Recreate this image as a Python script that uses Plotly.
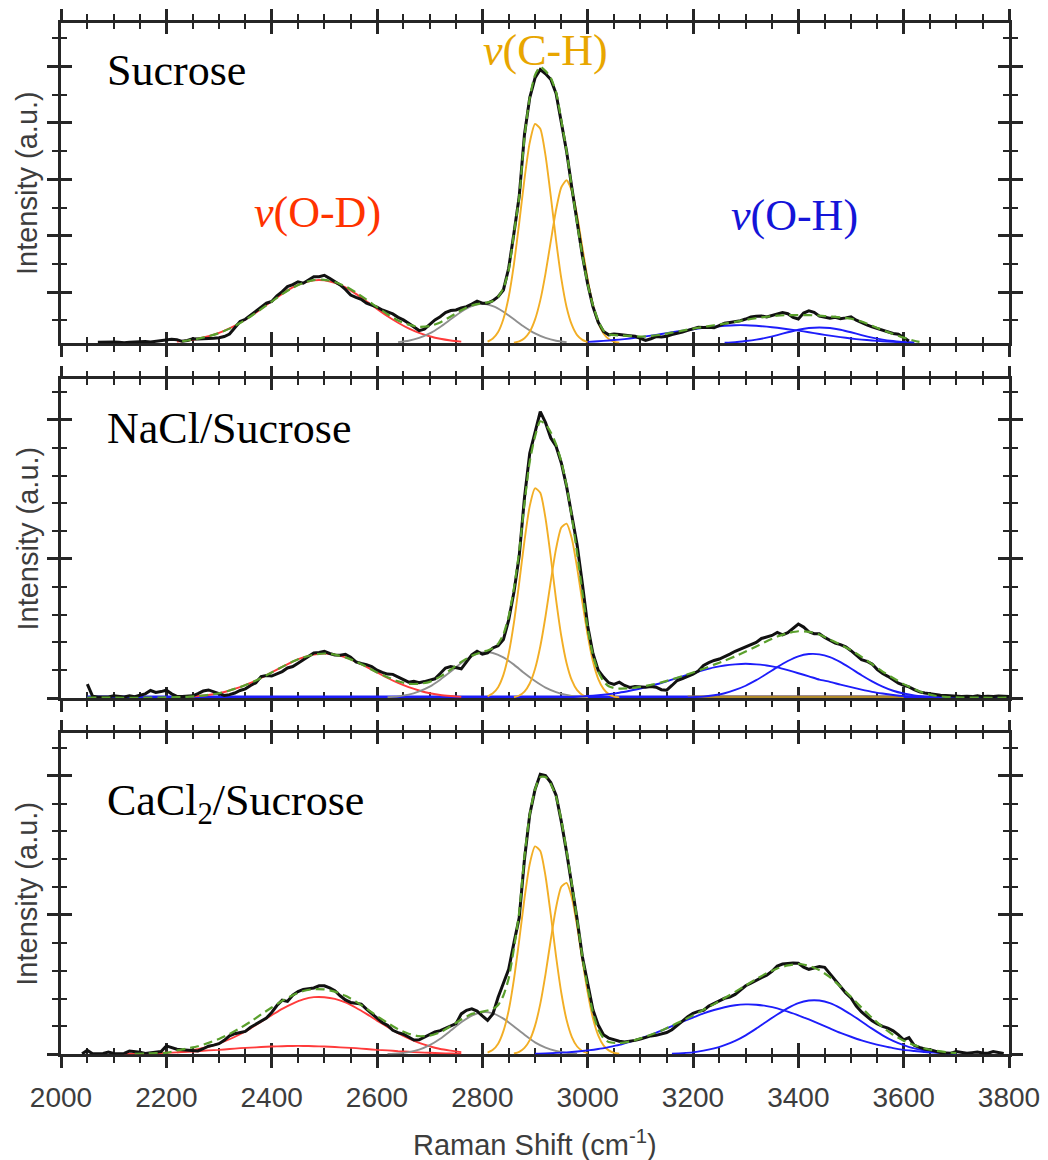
import plotly.graph_objects as go

# ---------------- data ----------------
# Panel 1 : Sucrose
P1_DATA_START, P1_DATA_STEP = 2070, 10
P1_DATA = [0.04, 0.05, 0.04, 0.05, 0.04, 0.02, 0.04, 0.05, 0.04, 0.06, 0.05, 0.07, 0.08, 0.12, 0.14, 0.13, 0.07, 0.10,
           0.16, 0.15, 0.16, 0.15, 0.18, 0.20, 0.24, 0.33, 0.57, 0.77, 0.85, 0.99, 1.12, 1.26, 1.42, 1.48, 1.68, 1.83,
           2.01, 2.08, 2.18, 2.13, 2.24, 2.36, 2.36, 2.41, 2.30, 2.18, 2.07, 1.91, 1.71, 1.63, 1.56, 1.42, 1.36, 1.28,
           1.18, 1.12, 1.04, 0.92, 0.83, 0.71, 0.59, 0.45, 0.50, 0.65, 0.83, 0.94, 1.09, 1.16, 1.18, 1.25, 1.30, 1.39,
           1.49, 1.42, 1.42, 1.51, 1.65, 1.89, 2.66, 3.9, 5.2, 7.4, 8.7, 9.4, 9.7, 9.55, 9.35, 8.85, 7.85, 6.8, 5.5,
           4.25, 3.1, 2.1, 1.3, 0.75, 0.42, 0.30, 0.33, 0.31, 0.30, 0.27, 0.25, 0.18, 0.10, 0.16, 0.24, 0.22, 0.25,
           0.31, 0.35, 0.40, 0.46, 0.52, 0.57, 0.56, 0.57, 0.55, 0.62, 0.71, 0.74, 0.77, 0.80, 0.86, 0.93, 0.96, 0.97,
           0.93, 0.99, 1.05, 1.09, 1.05, 0.92, 0.86, 1.07, 1.15, 1.10, 0.96, 0.92, 0.89, 0.92, 0.87, 0.90, 0.94, 0.82,
           0.73, 0.65, 0.58, 0.52, 0.46, 0.40, 0.35, 0.32, 0.20, 0.08]
P1_FIT = [(2230, 0.07), (2240, 0.10), (2260, 0.16), (2280, 0.25), (2300, 0.36), (2320, 0.52), (2340, 0.72),
          (2360, 0.95), (2380, 1.21), (2400, 1.48), (2420, 1.74), (2440, 1.97), (2460, 2.14), (2480, 2.24),
          (2500, 2.25), (2520, 2.17), (2540, 2.02), (2560, 1.80), (2580, 1.55), (2600, 1.28), (2620, 1.03),
          (2640, 0.81), (2660, 0.66), (2680, 0.58), (2700, 0.61), (2720, 0.74), (2740, 0.95), (2760, 1.17),
          (2780, 1.34), (2800, 1.42), (2810, 1.45), (2820, 1.50), (2830, 1.65), (2840, 1.95), (2850, 2.6),
          (2860, 3.9), (2870, 5.2), (2880, 7.3), (2890, 8.7), (2900, 9.5), (2910, 9.8), (2920, 9.65), (2930, 9.4),
          (2940, 8.9), (2950, 7.9), (2960, 6.8), (2970, 5.5), (2980, 4.25), (2990, 3.1), (3000, 2.1), (3010, 1.35),
          (3020, 0.8), (3030, 0.45), (3040, 0.32), (3060, 0.28), (3080, 0.26), (3100, 0.24), (3120, 0.26),
          (3140, 0.31), (3160, 0.38), (3180, 0.45), (3200, 0.52), (3220, 0.58), (3240, 0.64), (3260, 0.70),
          (3280, 0.76), (3300, 0.83), (3320, 0.89), (3340, 0.94), (3360, 0.98), (3380, 1.00), (3400, 1.00),
          (3420, 1.00), (3440, 0.98), (3460, 0.95), (3480, 0.92), (3500, 0.87), (3520, 0.77), (3540, 0.62),
          (3560, 0.47), (3580, 0.33), (3600, 0.20), (3620, 0.09), (3630, 0.05)]
P1_RED = (2220, 20, [0.06, 0.10, 0.16, 0.25, 0.37, 0.53, 0.73, 0.96, 1.22, 1.49, 1.75, 1.98, 2.14, 2.23, 2.23, 2.14,
                     1.98, 1.75, 1.49, 1.22, 0.96, 0.73, 0.53, 0.37, 0.25, 0.16, 0.10, 0.06])
P1_GRAY = (2640, 20, [0.04, 0.09, 0.19, 0.35, 0.58, 0.85, 1.12, 1.32, 1.40, 1.32, 1.12, 0.85, 0.58, 0.35, 0.19, 0.09,
                      0.04])
P1_GOLD1 = (2810, 10, [0.06, 0.17, 0.40, 0.86, 1.64, 2.80, 4.26, 5.82, 7.11, 7.77, 7.60, 6.65, 5.21, 3.65, 2.29, 1.28,
                       0.65, 0.29, 0.12, 0.04])
P1_GOLD2 = (2860, 10, [0.02, 0.07, 0.18, 0.41, 0.84, 1.52, 2.48, 3.62, 4.73, 5.53, 5.78, 5.40, 4.52, 3.39, 2.27, 1.36,
                       0.73, 0.35, 0.15, 0.06, 0.02])
P1_BLUE1 = (3000, 20, [0.05, 0.07, 0.10, 0.13, 0.17, 0.22, 0.27, 0.33, 0.39, 0.45, 0.50, 0.55, 0.59, 0.62, 0.64, 0.64,
                       0.62, 0.59, 0.55, 0.50, 0.45, 0.39, 0.33, 0.27, 0.22, 0.17, 0.13, 0.10, 0.07, 0.05, 0.04, 0.03])
P1_BLUE2 = (3260, 20, [0.02, 0.04, 0.08, 0.13, 0.20, 0.29, 0.39, 0.48, 0.54, 0.56, 0.54, 0.48, 0.39, 0.29, 0.20, 0.13,
                       0.08, 0.04, 0.02])

# Panel 2 : NaCl/Sucrose
P2_DATA_START, P2_DATA_STEP = 2050, 10
P2_DATA = [0.50, 0.06, 0.04, 0.05, 0.04, 0.08, 0.05, 0.04, 0.08, 0.05, 0.10, 0.15, 0.27, 0.20, 0.23, 0.28, 0.15, 0.06,
           0.05, 0.06, 0.08, 0.16, 0.25, 0.29, 0.22, 0.15, 0.09, 0.12, 0.18, 0.27, 0.33, 0.45, 0.55, 0.77, 0.81, 0.79,
           0.86, 0.95, 1.08, 1.13, 1.25, 1.38, 1.48, 1.62, 1.64, 1.68, 1.60, 1.55, 1.54, 1.57, 1.47, 1.30, 1.24, 1.20,
           1.13, 1.00, 0.92, 0.86, 0.85, 0.76, 0.66, 0.57, 0.60, 0.55, 0.59, 0.64, 0.69, 0.88, 1.08, 1.13, 1.10, 1.05,
           1.30, 1.55, 1.68, 1.58, 1.62, 1.80, 1.88, 2.10, 2.80, 3.8, 5.1, 7.2, 8.8, 9.6, 10.3, 9.9, 9.35, 9.05, 8.45,
           7.6, 6.6, 5.5, 4.1, 2.6, 1.6, 1.0, 0.75, 0.55, 0.49, 0.57, 0.45, 0.38, 0.41, 0.40, 0.39, 0.41, 0.39, 0.30,
           0.28, 0.45, 0.63, 0.70, 0.78, 0.86, 0.97, 1.17, 1.27, 1.35, 1.40, 1.48, 1.58, 1.68, 1.76, 1.82, 1.90, 2.00,
           2.14, 2.20, 2.25, 2.36, 2.27, 2.35, 2.52, 2.66, 2.55, 2.38, 2.31, 2.31, 2.18, 2.07, 1.97, 1.92, 1.84, 1.70,
           1.54, 1.38, 1.32, 1.22, 1.02, 0.88, 0.78, 0.65, 0.53, 0.46, 0.40, 0.30, 0.22, 0.18, 0.15, 0.12, 0.10, 0.09,
           0.07, 0.06, 0.05, 0.06, 0.05, 0.08, 0.05, 0.06, 0.05, 0.07, 0.05, 0.05]
P2_FIT = [(2050, 0.01), (2100, 0.01), (2150, 0.01), (2200, 0.02), (2240, 0.04), (2260, 0.07), (2280, 0.11),
          (2300, 0.17), (2320, 0.27), (2340, 0.39), (2360, 0.54), (2380, 0.72), (2400, 0.92), (2420, 1.12),
          (2440, 1.31), (2460, 1.46), (2480, 1.56), (2500, 1.60), (2520, 1.56), (2540, 1.46), (2560, 1.31),
          (2580, 1.12), (2600, 0.92), (2620, 0.75), (2640, 0.60), (2660, 0.51), (2680, 0.51), (2700, 0.58),
          (2720, 0.77), (2740, 1.02), (2760, 1.30), (2780, 1.52), (2800, 1.66), (2810, 1.71), (2820, 1.79),
          (2830, 1.95), (2840, 2.29), (2850, 2.93), (2860, 3.94), (2870, 5.28), (2880, 7.0), (2890, 8.5), (2900, 9.4),
          (2910, 9.95), (2920, 9.85), (2930, 9.55), (2940, 9.12), (2950, 8.5), (2960, 7.63), (2970, 6.5), (2980, 5.2),
          (2990, 3.8), (3000, 2.5), (3010, 1.55), (3020, 0.95), (3030, 0.6), (3040, 0.42), (3050, 0.36),
          (3060, 0.34), (3080, 0.35), (3100, 0.40), (3120, 0.47), (3140, 0.56), (3160, 0.67), (3180, 0.79),
          (3200, 0.92), (3220, 1.05), (3240, 1.20), (3260, 1.34), (3280, 1.50), (3300, 1.67), (3320, 1.85),
          (3340, 2.04), (3360, 2.21), (3380, 2.33), (3400, 2.40), (3420, 2.38), (3440, 2.28), (3460, 2.10),
          (3480, 1.92), (3500, 1.72), (3520, 1.48), (3540, 1.22), (3560, 0.95), (3580, 0.72), (3600, 0.50),
          (3620, 0.32), (3640, 0.17), (3660, 0.08), (3680, 0.04), (3700, 0.02), (3750, 0.01), (3800, 0.01)]
P2_RED = (2240, 20, [0.04, 0.07, 0.11, 0.17, 0.27, 0.39, 0.54, 0.72, 0.92, 1.12, 1.31, 1.46, 1.56, 1.60, 1.56, 1.46,
                     1.31, 1.12, 0.92, 0.72, 0.54, 0.39, 0.27, 0.17, 0.11, 0.07, 0.04])
P2_GRAY = (2620, 20, [0.03, 0.06, 0.12, 0.24, 0.41, 0.66, 0.95, 1.26, 1.50, 1.64, 1.62, 1.46, 1.20, 0.89, 0.61, 0.37,
                      0.21, 0.11, 0.05, 0.02])
P2_GOLD1 = (2810, 10, [0.06, 0.17, 0.39, 0.83, 1.59, 2.71, 4.14, 5.65, 6.90, 7.54, 7.38, 6.46, 5.06, 3.54, 2.22, 1.25,
                       0.63, 0.28, 0.11, 0.04])
P2_GOLD2 = (2860, 10, [0.03, 0.09, 0.23, 0.52, 1.04, 1.85, 2.94, 4.20, 5.37, 6.13, 6.27, 5.73, 4.69, 3.44, 2.26, 1.32,
                       0.69, 0.33, 0.14, 0.05, 0.02])
P2_BLUE1 = (2900, 20, [0.01, 0.01, 0.02, 0.03, 0.05, 0.07, 0.10, 0.14, 0.19, 0.26, 0.34, 0.44, 0.54, 0.66, 0.78, 0.89,
                       1.00, 1.10, 1.17, 1.21, 1.23, 1.21, 1.17, 1.10, 1.00, 0.89, 0.78, 0.66, 0.58, 0.48, 0.39, 0.30,
                       0.22, 0.16, 0.11, 0.07, 0.05, 0.03, 0.02, 0.01, 0.01])
P2_BLUE2 = (3180, 20, [0.01, 0.03, 0.05, 0.10, 0.17, 0.29, 0.44, 0.64, 0.87, 1.11, 1.33, 1.50, 1.58, 1.57, 1.47, 1.29,
                       1.06, 0.82, 0.60, 0.41, 0.26, 0.16, 0.09, 0.05, 0.02, 0.01])
P2_FLAT_BLUE = ([2050, 3800], [0, 0])
P2_FLAT_OLIVE = ([3190, 3600], [0, 0])

# Panel 3 : CaCl2/Sucrose
P3_DATA_START, P3_DATA_STEP = 2040, 10
P3_DATA = [0.02, 0.14, 0.02, 0.02, 0.03, 0.08, 0.03, 0.02, 0.03, 0.12, 0.10, 0.07, 0.03, 0.06, 0.09, 0.10, 0.30, 0.25,
           0.18, 0.16, 0.14, 0.14, 0.12, 0.20, 0.29, 0.33, 0.38, 0.50, 0.66, 0.74, 0.77, 0.82, 0.97, 1.08, 1.18, 1.30,
           1.50, 1.75, 1.94, 1.90, 2.12, 2.25, 2.33, 2.36, 2.38, 2.46, 2.46, 2.38, 2.28, 2.10, 1.95, 1.86, 1.84, 1.80,
           1.62, 1.46, 1.30, 1.14, 1.04, 0.86, 0.78, 0.72, 0.62, 0.51, 0.52, 0.62, 0.70, 0.80, 0.85, 0.93, 1.00, 1.10,
           1.45, 1.58, 1.63, 1.55, 1.38, 1.22, 1.45, 2.05, 2.55, 3.05, 4.0, 4.9, 7.0, 8.6, 9.5, 10.05, 10.0, 9.75, 9.3,
           8.35, 7.25, 6.1, 4.85, 3.5, 2.5, 1.6, 1.05, 0.7, 0.58, 0.52, 0.47, 0.44, 0.46, 0.50, 0.55, 0.61, 0.66, 0.68,
           0.72, 0.78, 0.88, 1.05, 1.19, 1.35, 1.47, 1.54, 1.58, 1.73, 1.84, 1.92, 2.01, 2.05, 2.15, 2.32, 2.46, 2.55,
           2.66, 2.75, 2.84, 2.98, 3.17, 3.24, 3.26, 3.28, 3.27, 3.13, 3.05, 3.10, 3.15, 3.12, 2.89, 2.62, 2.42, 2.20,
           2.02, 1.73, 1.52, 1.36, 1.20, 1.09, 1.00, 0.94, 0.84, 0.70, 0.52, 0.60, 0.32, 0.25, 0.19, 0.16, 0.12, 0.06,
           0.05, 0.04, 0.10, 0.08, 0.04, 0.06, 0.08, 0.05, 0.04, 0.10, 0.06, 0.03]
P3_FIT = [(2140, 0.02), (2160, 0.03), (2180, 0.04), (2200, 0.05), (2220, 0.14), (2240, 0.21), (2260, 0.29),
          (2280, 0.41), (2300, 0.55), (2320, 0.73), (2340, 0.94), (2360, 1.17), (2380, 1.43), (2400, 1.68),
          (2420, 1.92), (2440, 2.12), (2460, 2.27), (2480, 2.34), (2500, 2.33), (2520, 2.25), (2540, 2.10),
          (2560, 1.89), (2580, 1.64), (2600, 1.37), (2620, 1.13), (2640, 0.90), (2660, 0.74), (2680, 0.65),
          (2700, 0.67), (2720, 0.79), (2740, 1.01), (2760, 1.25), (2780, 1.45), (2800, 1.53), (2810, 1.57),
          (2820, 1.63), (2830, 1.77), (2840, 2.11), (2850, 2.72), (2860, 3.8), (2870, 5.1), (2880, 7.1), (2890, 8.6),
          (2900, 9.5), (2910, 9.95), (2920, 9.95), (2930, 9.7), (2940, 9.25), (2950, 8.4), (2960, 7.3), (2970, 6.1),
          (2980, 4.85), (2990, 3.5), (3000, 2.4), (3010, 1.5), (3020, 0.9), (3030, 0.58), (3040, 0.44), (3060, 0.40),
          (3080, 0.46), (3100, 0.57), (3120, 0.70), (3140, 0.85), (3160, 1.03), (3180, 1.21), (3200, 1.39),
          (3220, 1.60), (3240, 1.80), (3260, 2.02), (3280, 2.24), (3300, 2.47), (3320, 2.70), (3340, 2.91),
          (3360, 3.08), (3380, 3.19), (3400, 3.24), (3420, 3.18), (3440, 3.02), (3460, 2.77), (3480, 2.43),
          (3500, 2.06), (3520, 1.68), (3540, 1.31), (3560, 0.98), (3580, 0.70), (3600, 0.49), (3620, 0.33),
          (3640, 0.21), (3660, 0.13), (3680, 0.08), (3700, 0.04)]
P3_RED1 = (2220, 20, [0.07, 0.12, 0.18, 0.27, 0.39, 0.54, 0.72, 0.93, 1.17, 1.40, 1.63, 1.82, 1.97, 2.05, 2.05, 1.99,
                      1.86, 1.67, 1.45, 1.21, 0.98, 0.76, 0.57, 0.41, 0.29, 0.19, 0.13, 0.08])
P3_RED2 = (2120, 20, [0.015, 0.02, 0.03, 0.04, 0.054, 0.07, 0.09, 0.11, 0.14, 0.16, 0.19, 0.22, 0.24, 0.26, 0.28,
                      0.29, 0.30, 0.30, 0.29, 0.28, 0.26, 0.24, 0.22, 0.19, 0.16, 0.14, 0.11, 0.09, 0.07, 0.054, 0.04,
                      0.03, 0.02])
P3_GRAY = (2620, 20, [0.01, 0.03, 0.08, 0.17, 0.33, 0.56, 0.85, 1.15, 1.39, 1.51, 1.47, 1.28, 1.00, 0.70, 0.43, 0.24,
                      0.12, 0.05, 0.02])
P3_GOLD1 = (2810, 10, [0.06, 0.16, 0.38, 0.83, 1.57, 2.69, 4.09, 5.59, 6.83, 7.46, 7.30, 6.39, 5.00, 3.51, 2.20, 1.23,
                       0.62, 0.28, 0.12, 0.04])
P3_GOLD2 = (2860, 10, [0.03, 0.09, 0.23, 0.51, 1.02, 1.81, 2.88, 4.12, 5.27, 6.01, 6.15, 5.62, 4.60, 3.37, 2.22, 1.29,
                       0.68, 0.32, 0.14, 0.05, 0.02])
P3_BLUE1 = (2900, 20, [0.02, 0.03, 0.05, 0.07, 0.10, 0.14, 0.19, 0.26, 0.34, 0.45, 0.57, 0.70, 0.85, 1.01, 1.17, 1.32,
                       1.47, 1.59, 1.69, 1.76, 1.79, 1.78, 1.73, 1.65, 1.53, 1.40, 1.25, 1.09, 0.93, 0.77, 0.63, 0.50,
                       0.39, 0.30, 0.22, 0.16, 0.12, 0.08, 0.06, 0.04, 0.02])
P3_BLUE2 = (3160, 20, [0.02, 0.04, 0.07, 0.13, 0.21, 0.33, 0.48, 0.68, 0.92, 1.18, 1.43, 1.66, 1.84, 1.93, 1.93, 1.84,
                       1.66, 1.43, 1.18, 0.92, 0.68, 0.48, 0.33, 0.21, 0.13, 0.07, 0.04, 0.02])

PANEL_LABELS = ["Sucrose", "NaCl/Sucrose", "CaCl<sub>2</sub>/Sucrose"]
BAND_LABELS = ["<i>v</i>(O-D)", "<i>v</i>(C-H)", "<i>v</i>(O-H)"]
X_TICKS = [2000, 2200, 2400, 2600, 2800, 3000, 3200, 3400, 3600, 3800]
X_TITLE = "Raman Shift (cm<sup>-1</sup>)"
Y_TITLE = "Intensity (a.u.)"

# ---------------- styling ----------------
RED, GOLD, GRAY, BLUE, OLIVE = "#ff3b3b", "#f2ae25", "#8f8f8f", "#1d1dfa", "#b08a2a"
GREEN, BLACK, AX = "#5aa02c", "#111111", "#262626"
TXT = "#3d3d3d"
SERIF = "Liberation Serif, Times New Roman, serif"
SANS = "Liberation Sans, Arial, sans-serif"

X_DOMAIN = [61 / 1048, 1009 / 1048]
Y_DOMAINS = [[1 - 343.3 / 1160, 1 - 22.7 / 1160],
             [1 - 698.0 / 1160, 1 - 379.3 / 1160],
             [1 - 1054.3 / 1160, 1 - 733.3 / 1160]]
Y_RANGES = [[0, 11.36], [0, 11.46], [0, 11.52]]
Y_MAJOR = [(1.81, 2), (0, 5), (0, 5)]
Y_MINOR = [(0.81, 1), (0, 1), (0, 1)]


def grid(start, step, vals):
    return [start + i * step for i in range(len(vals))]


fig = go.Figure()


def add_line(xs, ys, color, width, ax, dash=None):
    fig.add_trace(go.Scatter(x=xs, y=ys, mode="lines", line=dict(color=color, width=width, dash=dash,
                                                                 shape="spline", smoothing=0.6),
                             xaxis="x" + ax, yaxis="y" + ax, showlegend=False, hoverinfo="skip"))


def add_comp(comp, color, ax, width=1.9):
    s, st, v = comp
    add_line(grid(s, st, v), v, color, width, ax)


panels = [
    dict(ax="", reds=[P1_RED], gray=P1_GRAY, golds=[P1_GOLD1, P1_GOLD2], blues=[P1_BLUE1, P1_BLUE2],
         data=(P1_DATA_START, P1_DATA_STEP, P1_DATA), fit=P1_FIT),
    dict(ax="2", reds=[P2_RED], gray=P2_GRAY, golds=[P2_GOLD1, P2_GOLD2], blues=[P2_BLUE1, P2_BLUE2],
         data=(P2_DATA_START, P2_DATA_STEP, P2_DATA), fit=P2_FIT),
    dict(ax="3", reds=[P3_RED1, P3_RED2], gray=P3_GRAY, golds=[P3_GOLD1, P3_GOLD2], blues=[P3_BLUE1, P3_BLUE2],
         data=(P3_DATA_START, P3_DATA_STEP, P3_DATA), fit=P3_FIT),
]

for i, p in enumerate(panels):
    ax = p["ax"]
    if i == 1:
        fig.add_trace(go.Scatter(x=P2_FLAT_BLUE[0], y=P2_FLAT_BLUE[1], mode="lines",
                                 line=dict(color=BLUE, width=5), xaxis="x2", yaxis="y2",
                                 showlegend=False, hoverinfo="skip"))
        fig.add_trace(go.Scatter(x=P2_FLAT_OLIVE[0], y=P2_FLAT_OLIVE[1], mode="lines",
                                 line=dict(color=OLIVE, width=5), xaxis="x2", yaxis="y2",
                                 showlegend=False, hoverinfo="skip"))
    for r in p["reds"]:
        add_comp(r, RED, ax)
    add_comp(p["gray"], GRAY, ax)
    for g in p["golds"]:
        add_comp(g, GOLD, ax)
    for b in p["blues"]:
        add_comp(b, BLUE, ax)
    s, st, v = p["data"]
    fig.add_trace(go.Scatter(x=grid(s, st, v), y=v, mode="lines", line=dict(color=BLACK, width=3),
                             xaxis="x" + ax, yaxis="y" + ax, showlegend=False, hoverinfo="skip"))
    fx = [a for a, _ in p["fit"]]
    fy = [b for _, b in p["fit"]]
    add_line(fx, fy, GREEN, 2.2, ax, dash="9px,5px")

# overlay (inside-tick) axes: need a trace to exist
for k in (4, 5, 6):
    fig.add_trace(go.Scatter(x=[None], y=[None], mode="lines", xaxis=f"x{k}", yaxis=f"y{k}",
                             showlegend=False, hoverinfo="skip"))

layout = dict(width=1048, height=1160, margin=dict(l=0, r=0, t=0, b=0, pad=0, autoexpand=False),
              paper_bgcolor="white", plot_bgcolor="white", showlegend=False)

for i in range(3):
    n = "" if i == 0 else str(i + 1)
    ov = str(i + 4)
    tickfont = dict(family=SANS, size=28, color=TXT)
    xcommon = dict(range=[2000, 3800], tickmode="array", tickvals=X_TICKS, showgrid=False, zeroline=False,
                   automargin=False,
                   ticklen=11, tickwidth=2.5, tickcolor=AX, mirror="allticks", layer="below traces",
                   minor=dict(dtick=50, tick0=2000, ticklen=6, tickwidth=2.2, tickcolor=AX, showgrid=False))
    ycommon = dict(range=Y_RANGES[i], tick0=Y_MAJOR[i][0], dtick=Y_MAJOR[i][1], showgrid=False, zeroline=False,
                   automargin=False,
                   ticklen=11, tickwidth=2.5, tickcolor=AX, mirror="allticks", layer="below traces",
                   showticklabels=False,
                   minor=dict(tick0=Y_MINOR[i][0], dtick=Y_MINOR[i][1], ticklen=6, tickwidth=2.2, tickcolor=AX,
                              showgrid=False))
    xa = dict(xcommon, domain=X_DOMAIN, anchor="y" + n, ticks="outside", showline=True, linecolor=AX,
              linewidth=2.5, showticklabels=(i == 2), tickfont=tickfont, ticklabelstandoff=5)
    xa["minor"] = dict(xcommon["minor"], ticks="outside")
    ya = dict(ycommon, domain=Y_DOMAINS[i], anchor="x" + n, ticks="outside", showline=True, linecolor=AX,
              linewidth=2.5)
    ya["minor"] = dict(ycommon["minor"], ticks="outside")
    xo = dict(xcommon, overlaying="x" + n, anchor="y" + ov, ticks="inside", showline=False, showticklabels=False)
    xo["minor"] = dict(xcommon["minor"], ticks="inside")
    yo = dict(ycommon, overlaying="y" + n, anchor="x" + ov, ticks="inside", showline=False)
    yo["minor"] = dict(ycommon["minor"], ticks="inside")
    layout["xaxis" + n] = xa
    layout["yaxis" + n] = ya
    layout["xaxis" + ov] = xo
    layout["yaxis" + ov] = yo

ann = []
label_pos = [70.5, 428.8, 803.8]
for i, t in enumerate(PANEL_LABELS):
    ann.append(dict(text=t, x=105 / 1048, y=1 - label_pos[i] / 1160, xref="paper", yref="paper",
                    xanchor="left", yanchor="middle", showarrow=False,
                    font=dict(family=SERIF, size=44, color="black")))
band_pos = [(317, 212.5, "#ff3300"), (545, 50.5, "#e8a600"), (794, 215.5, "#1414d8")]
for t, (bx, by, c) in zip(BAND_LABELS, band_pos):
    ann.append(dict(text=t, x=bx / 1048, y=1 - by / 1160, xref="paper", yref="paper",
                    xanchor="center", yanchor="middle", showarrow=False,
                    font=dict(family=SERIF, size=44, color=c)))
for cy in (183, 538.5, 893.7):
    ann.append(dict(text=Y_TITLE, x=27 / 1048, y=1 - cy / 1160, xref="paper", yref="paper",
                    xanchor="center", yanchor="middle", textangle=-90, showarrow=False,
                    font=dict(family=SANS, size=29, color=TXT)))
ann.append(dict(text=X_TITLE, x=535 / 1048, y=1 - 1143 / 1160, xref="paper", yref="paper",
                xanchor="center", yanchor="middle", showarrow=False,
                font=dict(family=SANS, size=29, color=TXT)))
layout["annotations"] = ann

fig.update_layout(**layout)
fig.write_html("out.html")
